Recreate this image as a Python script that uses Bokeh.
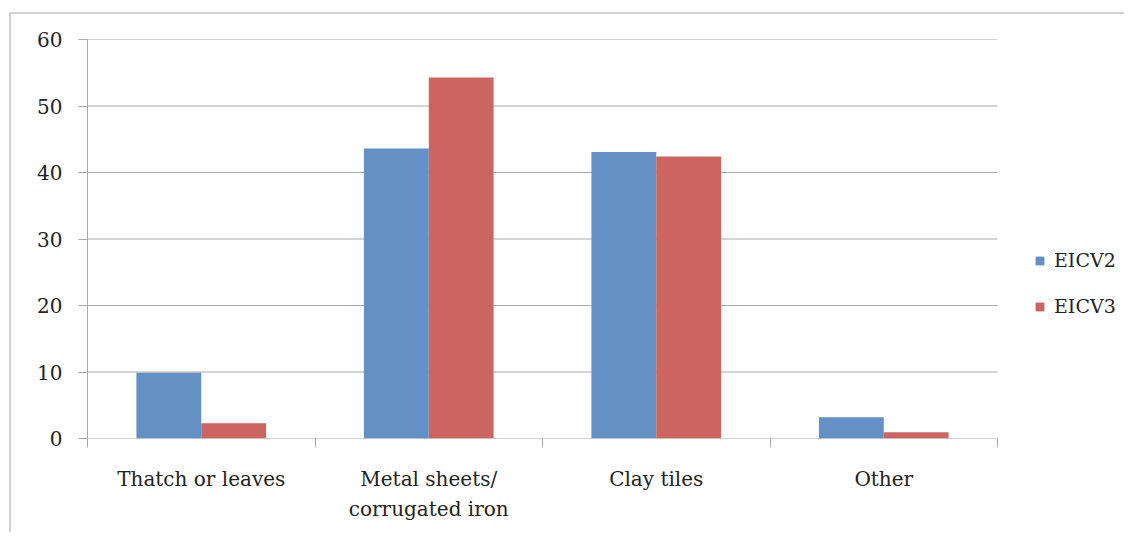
from bokeh.plotting import figure
from bokeh.models import (ColumnDataSource, Range1d, FixedTicker, Legend, LegendItem)
from bokeh.embed import file_html
from bokeh.resources import INLINE

categories = ["Thatch or leaves", "Metal sheets/\ncorrugated iron", "Clay tiles", "Other"]
eicv2 = [9.9, 43.6, 43.1, 3.2]
eicv3 = [2.3, 54.3, 42.4, 0.95]
y_ticks = [0, 10, 20, 30, 40, 50, 60]

BLUE = "#6391c6"
RED = "#cc655f"
GRID = "#a8a8a8"
TEXT = "#222222"
FONT = "DejaVu Serif"

n = len(categories)
bar_w = 0.285
centers = [i + 0.5 for i in range(n)]
src = ColumnDataSource(dict(
    x2=[c - bar_w / 2 for c in centers],
    x3=[c + bar_w / 2 for c in centers],
    eicv2=eicv2,
    eicv3=eicv3,
))
grid_src = ColumnDataSource(dict(
    x0=[0] * len(y_ticks), x1=[n] * len(y_ticks), y=y_ticks,
))

W = 1115
MBL, MBR = 76, 5
frame_w = W - MBL - MBR
x_end = n * frame_w / 910.0

p = figure(width=W, height=520, output_backend="svg", toolbar_location=None,
           x_range=Range1d(0, x_end), y_range=Range1d(0, 60),
           min_border_left=MBL, min_border_top=25, min_border_bottom=96,
           min_border_right=MBR)
p.styles = {"margin-top": "12px", "margin-left": "9px",
            "border-left": "2px solid #d2d2d2",
            "border-top": "2px solid #d2d2d2"}
p.outline_line_color = None
p.background_fill_color = "white"
p.xgrid.visible = False
p.ygrid.visible = False

# horizontal gridlines across the category area only (plus the x axis line)
p.segment(x0="x0", x1="x1", y0="y", y1="y", source=grid_src,
          line_color=GRID, line_width=1)

r2 = p.vbar(x="x2", top="eicv2", width=bar_w, source=src, fill_color=BLUE,
            line_color=None)
r3 = p.vbar(x="x3", top="eicv3", width=bar_w, source=src, fill_color=RED,
            line_color=None)

ya = p.yaxis[0]
ya.ticker = FixedTicker(ticks=y_ticks)
ya.axis_line_color = GRID
ya.major_tick_line_color = GRID
ya.major_tick_out = 9
ya.major_tick_in = 0
ya.minor_tick_line_color = None
ya.major_label_text_font = FONT
ya.major_label_text_font_size = "20px"
ya.major_label_text_color = TEXT
ya.major_label_standoff = 16

xa = p.xaxis[0]
xa.ticker = FixedTicker(ticks=centers, minor_ticks=list(range(n + 1)))
xa.major_label_overrides = {c: lab for c, lab in zip(centers, categories)}
xa.axis_line_color = None
xa.major_tick_line_color = None
xa.minor_tick_line_color = GRID
xa.minor_tick_out = 9
xa.minor_tick_in = 0
xa.major_label_text_font = FONT
xa.major_label_text_font_size = "20px"
xa.major_label_text_color = TEXT
xa.major_label_standoff = 19
xa.major_label_text_line_height = 1.25

legend = Legend(items=[LegendItem(label="EICV2", renderers=[r2]),
                       LegendItem(label="EICV3", renderers=[r3])],
                location=(947, 121))
legend.border_line_color = None
legend.background_fill_alpha = 0
legend.label_text_font = FONT
legend.label_text_font_size = "19px"
legend.label_text_color = TEXT
legend.glyph_width = 11
legend.glyph_height = 11
legend.spacing = 24
legend.padding = 0
legend.margin = 0
legend.label_standoff = 9
p.add_layout(legend)

open("out.html", "w").write(file_html(p, INLINE))
